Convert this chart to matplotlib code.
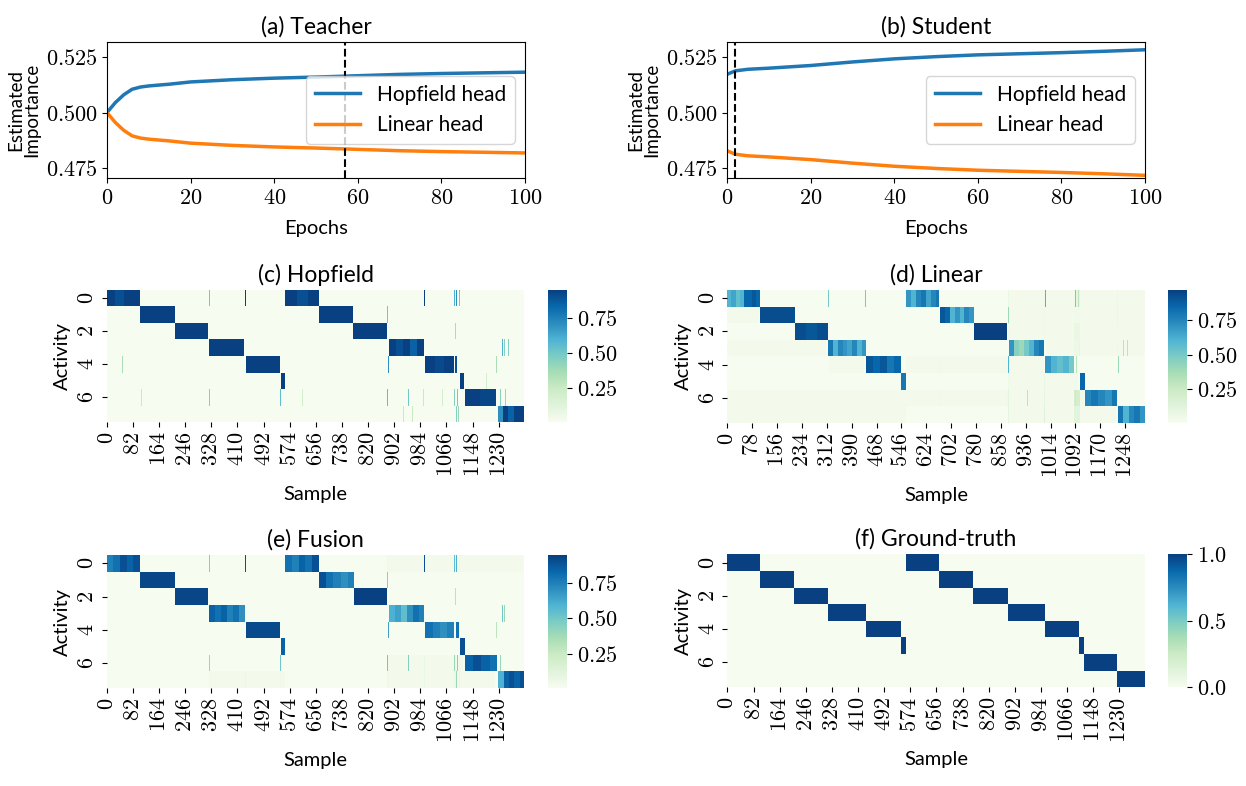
import numpy as np
import matplotlib
matplotlib.use("Agg")
import matplotlib.pyplot as plt
import seaborn as sns
from matplotlib.ticker import FuncFormatter

plt.rcParams['font.family'] = ['Lato', 'DejaVu Sans']
plt.rcParams['mathtext.fontset'] = 'cm'

# ---------------- line plots: estimated head importance ----------------
teacher_epochs = [0, 2, 4, 6, 8, 10, 15, 20, 30, 40, 50, 57, 60, 70, 80, 90, 100]
teacher_hopfield = [0.5000, 0.5045, 0.5080, 0.5105, 0.5115, 0.5120, 0.5128, 0.5138, 0.5148,
                    0.5155, 0.5160, 0.5164, 0.5166, 0.5172, 0.5176, 0.5179, 0.5182]
teacher_linear = [0.5000, 0.4955, 0.4920, 0.4895, 0.4885, 0.4880, 0.4872, 0.4862, 0.4852,
                  0.4845, 0.4840, 0.4836, 0.4834, 0.4828, 0.4824, 0.4821, 0.4818]
teacher_best = 57

student_epochs = [0, 1, 2, 5, 10, 20, 30, 40, 50, 60, 70, 80, 90, 100]
student_hopfield = [0.5172, 0.5180, 0.5188, 0.5195, 0.5200, 0.5212, 0.5228, 0.5242, 0.5252,
                    0.5260, 0.5265, 0.5270, 0.5276, 0.5283]
student_linear = [0.4828, 0.4820, 0.4812, 0.4805, 0.4800, 0.4788, 0.4772, 0.4758, 0.4748,
                  0.4740, 0.4735, 0.4730, 0.4724, 0.4717]
student_best = 2

# ---------------- heatmaps: activity per sample ----------------
n_samples = 1311
n_activities = 8

# ground truth: (activity, number of samples) in order
gt_segments = [(0, 103), (1, 107), (2, 107), (3, 117), (4, 110), (5, 16),
               (0, 106), (1, 106), (2, 108), (3, 117), (4, 108), (5, 16),
               (6, 102), (7, 88)]

# predicted blocks: (activity, start, end, levels across the block)
hopfield_blocks = [
    (0, 0, 105, [0.95, 0.9, 0.95, 0.95]), (1, 105, 215, [0.95]), (2, 215, 317, [0.95]),
    (3, 320, 432, [0.95]), (4, 437, 544, [0.95]), (5, 546, 561, [0.95]),
    (0, 561, 667, [0.95, 0.9, 0.95]), (1, 667, 774, [0.95]), (2, 774, 880, [0.95]),
    (3, 886, 995, [0.95, 0.9, 0.95, 0.85, 0.95]), (4, 1000, 1090, [0.95, 0.92, 0.95]),
    (4, 1095, 1101, [0.9]), (5, 1109, 1122, [0.95]), (6, 1124, 1222, [0.95, 0.93]),
    (7, 1227, 1311, [0.7, 0.95, 0.85, 0.95, 0.95]),
]
hopfield_spikes = [
    (0, 321, 0.5), (0, 434, 0.95), (4, 49, 0.35), (6, 107, 0.25), (6, 320, 0.45),
    (6, 545, 0.55), (6, 614, 0.2), (0, 997, 0.95), (0, 1091, 0.6), (0, 1097, 0.7),
    (0, 1105, 0.5), (1, 881, 0.5), (2, 1095, 0.35), (3, 1241, 0.6), (3, 1247, 0.45),
    (3, 1259, 0.45), (4, 884, 0.7), (4, 1223, 0.35), (4, 1309, 0.6), (5, 1190, 0.2),
    (6, 881, 0.55), (6, 947, 0.5), (6, 992, 0.25), (6, 1053, 0.2), (6, 1090, 0.45),
    (6, 1100, 0.5), (6, 1235, 0.45), (6, 1250, 0.4), (7, 929, 0.25), (7, 958, 0.25),
    (7, 1097, 0.45), (7, 1104, 0.4),
]
hopfield_haze = []

linear_blocks = [
    (0, 0, 103, [0.6, 0.65, 0.55, 0.6, 0.85, 0.85, 0.9, 0.85]), (1, 103, 213, [0.93]),
    (2, 213, 317, [0.93, 0.9, 0.93]), (3, 317, 434, [0.8, 0.6, 0.75, 0.7, 0.65, 0.75, 0.6, 0.7]),
    (4, 434, 544, [0.9, 0.85, 0.9, 0.8, 0.85]), (5, 544, 560, [0.8]),
    (0, 560, 666, [0.7, 0.6, 0.75, 0.8, 0.65, 0.75, 0.8]),
    (1, 669, 773, [0.9, 0.85, 0.6, 0.7, 0.6, 0.75, 0.7]), (2, 773, 878, [0.97]),
    (3, 883, 995, [0.7, 0.45, 0.4, 0.5, 0.6, 0.75, 0.8]),
    (4, 998, 1089, [0.7, 0.6, 0.55, 0.6, 0.5]), (5, 1106, 1122, [0.85]),
    (6, 1122, 1224, [0.75, 0.8, 0.75, 0.7, 0.8]), (7, 1226, 1311, [0.8, 0.6, 0.75, 0.8, 0.7]),
]
linear_spikes = [
    (0, 317, 0.5), (0, 432, 0.5), (0, 996, 0.6), (0, 1092, 0.5), (0, 1100, 0.3),
    (1, 880, 0.4), (3, 1243, 0.3), (3, 1254, 0.3), (4, 881, 0.6), (4, 1225, 0.4),
    (4, 1096, 0.3), (6, 940, 0.3), (6, 1090, 0.25),
]
# faint background tint: (activity, start, end, levels)
linear_haze = [
    (1, 0, 100, [0.1, 0.06, 0.12]), (0, 880, 1311, [0.08, 0.05, 0.1, 0.06]),
    (1, 880, 1311, [0.06, 0.04, 0.07]), (2, 880, 1311, [0.05, 0.08, 0.04]),
    (3, 0, 310, [0.04, 0.06, 0.03]), (3, 1000, 1311, [0.06, 0.09, 0.05]),
    (4, 320, 430, [0.06, 0.09, 0.05]), (4, 560, 880, [0.05, 0.07, 0.04]),
    (4, 880, 995, [0.06, 0.08]), (5, 880, 1100, [0.05, 0.08, 0.04]),
    (6, 0, 560, [0.05, 0.08, 0.04, 0.06]), (6, 560, 880, [0.06, 0.09, 0.05]),
    (6, 880, 1120, [0.12, 0.18, 0.1, 0.15, 0.12, 0.2]), (7, 320, 560, [0.1, 0.14, 0.08, 0.12]),
    (7, 880, 1220, [0.1, 0.15, 0.08, 0.12, 0.1]), (7, 0, 320, [0.04, 0.06]),
]

fusion_blocks = [
    (0, 0, 104, [0.75, 0.8, 0.9, 0.85, 0.9]), (1, 104, 214, [0.93]), (2, 214, 317, [0.93]),
    (3, 320, 433, [0.85, 0.8, 0.85, 0.75, 0.8, 0.7]), (4, 436, 544, [0.92]),
    (5, 546, 561, [0.85]), (0, 561, 666, [0.8, 0.75, 0.85, 0.8, 0.9]),
    (1, 668, 775, [0.9, 0.8, 0.75, 0.7, 0.75]), (2, 775, 880, [0.95]),
    (3, 886, 997, [0.6, 0.65, 0.55, 0.7, 0.8, 0.75]), (4, 1000, 1090, [0.8, 0.75, 0.7, 0.75]),
    (4, 1098, 1107, [0.8]), (5, 1110, 1124, [0.9]), (6, 1124, 1225, [0.85, 0.9, 0.85, 0.8]),
    (7, 1229, 1311, [0.6, 0.85, 0.9, 0.85, 0.9]),
]
fusion_spikes = [
    (0, 321, 0.45), (0, 434, 0.9), (0, 997, 0.9), (0, 1091, 0.55), (0, 1097, 0.6),
    (1, 881, 0.45), (2, 1095, 0.3), (3, 1241, 0.5), (3, 1247, 0.4), (4, 884, 0.65),
    (4, 1223, 0.3), (4, 1309, 0.55), (6, 320, 0.4), (6, 545, 0.5), (6, 881, 0.5),
    (6, 947, 0.45), (6, 1090, 0.4), (6, 1100, 0.45), (6, 1235, 0.4), (7, 1097, 0.4),
]
fusion_haze = [
    (6, 880, 1120, [0.05, 0.08, 0.04, 0.06]), (7, 320, 560, [0.04, 0.07, 0.05]),
    (7, 880, 1220, [0.05, 0.07, 0.04]), (0, 880, 1311, [0.04, 0.06, 0.03]),
]

hopfield_step, linear_step, fusion_step, gt_step = 82, 78, 82, 82


def build_matrix(blocks, spikes, haze, base=0.005):
    m = np.full((n_activities, n_samples), base)
    for act, s, e, lv in haze:
        m[act, s:e] = np.repeat(lv, int(np.ceil((e - s) / len(lv))))[:e - s]
    for act, s, e, lv in blocks:
        m[:, s:e] = np.minimum(m[:, s:e], 0.03)
        m[act, s:e] = np.repeat(lv, int(np.ceil((e - s) / len(lv))))[:e - s]
    for act, s, v in spikes:
        m[act, s:s + 3] = v
    return m


gt = np.zeros((n_activities, n_samples))
pos = 0
for act, length in gt_segments:
    gt[act, pos:pos + length] = 1.0
    pos += length

hop_m = build_matrix(hopfield_blocks, hopfield_spikes, hopfield_haze)
lin_m = build_matrix(linear_blocks, linear_spikes, linear_haze)
fus_m = build_matrix(fusion_blocks, fusion_spikes, fusion_haze)

# ---------------- figure ----------------
W, H = 1246, 786
fig = plt.figure(figsize=(W / 100, H / 100), dpi=100)
TICK = 16
LAB = 14.5
TIT = 16.5
LEG = 15


def box(x0, y0, x1, y1):
    return [x0 / W, 1 - y1 / H, (x1 - x0) / W, (y1 - y0) / H]


mfmt_y = FuncFormatter(lambda v, p: '$%.3f$' % v)
mfmt_x = FuncFormatter(lambda v, p: '$%d$' % v)


def line_panel(rect, title, ep, hop, lin, best):
    ax = fig.add_axes(rect)
    ax.plot(ep, hop, color='tab:blue', lw=2.5, label='Hopfield head')
    ax.plot(ep, lin, color='tab:orange', lw=2.5, label='Linear head')
    ax.axvline(best, color='black', ls='--', lw=1.5)
    ax.set_xlim(0, 100)
    ax.set_ylim(0.4705, 0.5318)
    ax.set_yticks([0.475, 0.5, 0.525])
    ax.set_xticks([0, 20, 40, 60, 80, 100])
    ax.yaxis.set_major_formatter(mfmt_y)
    ax.xaxis.set_major_formatter(mfmt_x)
    ax.tick_params(labelsize=TICK)
    ax.set_xlabel('Epochs', fontsize=LAB, labelpad=9)
    ax.set_ylabel('Estimated\nImportance', fontsize=13.5, linespacing=0.9)
    ax.set_title(title, fontsize=TIT)
    ax.legend(loc='center right', fontsize=LEG, handlelength=2.2)
    return ax


line_panel(box(107, 42, 525, 178), '(a) Teacher', teacher_epochs, teacher_hopfield,
           teacher_linear, teacher_best)
line_panel(box(727, 42, 1145, 178), '(b) Student', student_epochs, student_hopfield,
           student_linear, student_best)


def heat_panel(rect, crect, title, m, step, cticks, clabels, vmin=None, vmax=None):
    ax = fig.add_axes(rect)
    cax = fig.add_axes(crect)
    sns.heatmap(m, ax=ax, cbar_ax=cax, cmap='GnBu', vmin=vmin, vmax=vmax)
    xt = np.arange(0, n_samples, step)
    ax.set_xticks(xt + 0.5)
    ax.set_xticklabels(['$%d$' % t for t in xt], rotation=90, fontsize=TICK)
    ax.set_yticks([0.5, 2.5, 4.5, 6.5])
    ax.set_yticklabels(['$0$', '$2$', '$4$', '$6$'], rotation=90, va='center', fontsize=TICK)
    ax.set_xlabel('Sample', fontsize=LAB, labelpad=6)
    ax.set_ylabel('Activity', fontsize=LAB)
    ax.set_title(title, fontsize=TIT)
    cax.set_yticks(cticks)
    cax.set_yticklabels(clabels, fontsize=TICK)
    return ax


pred_ticks = [0.25, 0.5, 0.75]
pred_labels = ['$0.25$', '$0.50$', '$0.75$']
heat_panel(box(106.7, 290, 524.3, 422), box(548, 290, 567, 422), '(c) Hopfield',
           hop_m, hopfield_step, pred_ticks, pred_labels)
heat_panel(box(727.3, 290, 1145, 422.7), box(1168, 290, 1187, 422.7), '(d) Linear',
           lin_m, linear_step, pred_ticks, pred_labels)
heat_panel(box(106.7, 555, 524.3, 688), box(548, 555, 567, 688), '(e) Fusion',
           fus_m, fusion_step, pred_ticks, pred_labels)
heat_panel(box(727.3, 554.3, 1145, 687.3), box(1168, 554.3, 1187, 687.3), '(f) Ground-truth',
           gt, gt_step, [0.0, 0.5, 1.0], ['$0.0$', '$0.5$', '$1.0$'], vmin=0, vmax=1)

fig.savefig('out.png', dpi=100)
